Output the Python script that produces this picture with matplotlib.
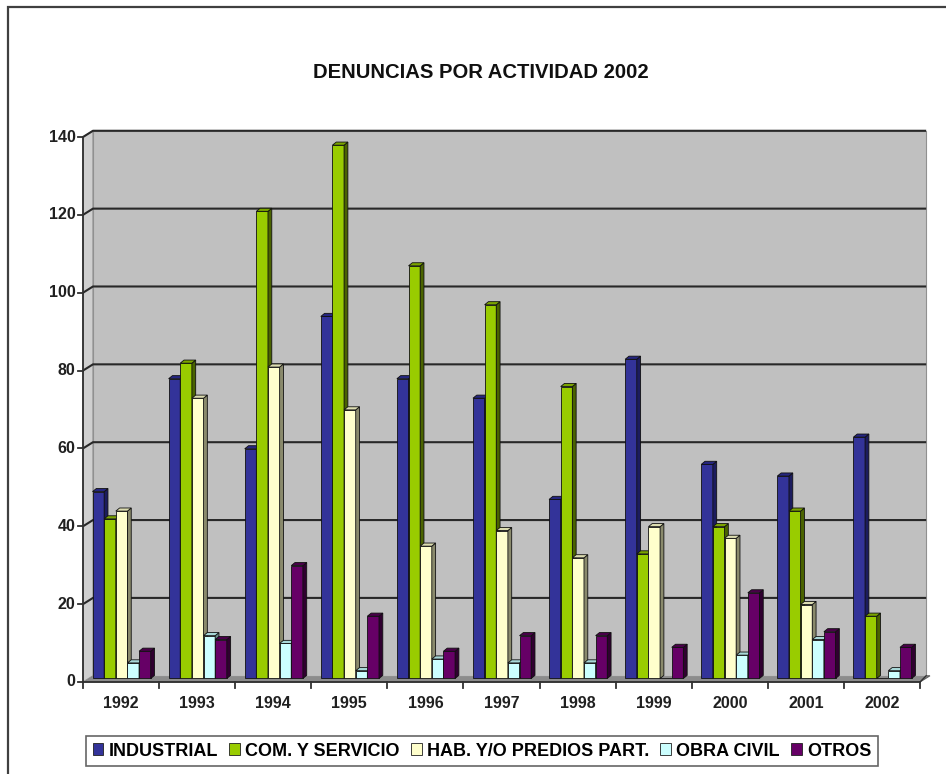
import numpy as np
import matplotlib.pyplot as plt
from matplotlib.patches import Polygon, Rectangle, Patch

## Data: complaints per activity, 1992-2002

years = ['1992', '1993', '1994', '1995', '1996', '1997', '1998', '1999', '2000', '2001', '2002']
series_names = ['INDUSTRIAL', 'COM. Y SERVICIO', 'HAB. Y/O PREDIOS PART.', 'OBRA CIVIL', 'OTROS']

industrial = [48, 77, 59, 93, 77, 72, 46, 82, 55, 52, 62]
comercio = [41, 81, 120, 137, 106, 96, 75, 32, 39, 43, 16]
habitacional = [43, 72, 80, 69, 34, 38, 31, 39, 36, 19, 0]
obra_civil = [4, 11, 9, 2, 5, 4, 4, 0, 6, 10, 2]
otros = [7, 10, 29, 16, 7, 11, 11, 8, 22, 12, 8]

series = [industrial, comercio, habitacional, obra_civil, otros]

# front / side / top face colours for the fake 3D bars
front_cols = ['#333399', '#99cc00', '#ffffcc', '#ccffff', '#660066']
side_cols = ['#1c1c5e', '#4a6300', '#8a8a6c', '#6c8c8c', '#300030']
top_cols = ['#262680', '#7ba400', '#dcdcb0', '#a8d8d8', '#4a004a']

yticks = [0, 20, 40, 60, 80, 100, 120, 140]

W, H = 946, 774
fig = plt.figure(figsize=(W / 100, H / 100), dpi=100)
fig.patch.set_facecolor('white')

# chart-area border (only top and left edges fall inside the frame)
fig.add_artist(Rectangle((8 / W, -0.1), 1.2, 1 - 7 / H + 0.1, transform=fig.transFigure,
                         facecolor='none', edgecolor='#404040', lw=1.6))

ax_l, ax_r, ax_b, ax_t = 83, 920, 682, 137
ax = fig.add_axes([ax_l / W, 1 - ax_b / H, (ax_r - ax_l) / W, (ax_b - ax_t) / H])
ax.set_xlim(0, len(years))
ax.set_ylim(0, 140)
ax.axis('off')

# depth of the walls and of the bars (data units)
wx, wy = 0.131, 1.6
bx, by = 0.05, 0.8
n = len(years)

# floor, side wall and back wall
ax.add_patch(Polygon([(0, 0), (n, 0), (n + wx, wy), (wx, wy)], closed=True,
                     facecolor='#8c8c8c', edgecolor='#606060', lw=0.8, clip_on=False, zorder=1))
ax.add_patch(Polygon([(0, 0), (wx, wy), (wx, 140 + wy), (0, 140)], closed=True,
                     facecolor='#cfcfcf', edgecolor='#909090', lw=0.8, clip_on=False, zorder=1))
ax.add_patch(Rectangle((wx, wy), n - 0.05, 140, facecolor='#c0c0c0', edgecolor='#909090',
                       lw=0.8, clip_on=False, zorder=1))

# gridlines on back wall plus slant across the side wall
for v in yticks[1:]:
    ax.plot([0, wx, n + wx - 0.05], [v, v + wy, v + wy], color='#282828', lw=1.5,
            clip_on=False, zorder=2, solid_capstyle='butt')

# bars
bw = 0.153
start = 0.125
base = 0.9
x = np.arange(n)
for i, vals in enumerate(series):
    xs = x + start + i * bw
    vals = np.array(vals, dtype=float)
    ax.bar(xs, vals, width=bw, bottom=base, align='edge', color=front_cols[i],
           edgecolor='#101010', lw=0.6, zorder=3 + i, clip_on=False)
    for xi, v in zip(xs, vals):
        if v <= 0:
            continue
        top = base + v
        side = [(xi + bw, base), (xi + bw + bx, base + by), (xi + bw + bx, top + by), (xi + bw, top)]
        cap = [(xi, top), (xi + bw, top), (xi + bw + bx, top + by), (xi + bx, top + by)]
        ax.add_patch(Polygon(side, closed=True, facecolor=side_cols[i], edgecolor='#101010',
                             lw=0.6, zorder=3 + i, clip_on=False))
        ax.add_patch(Polygon(cap, closed=True, facecolor=top_cols[i], edgecolor='#101010',
                             lw=0.6, zorder=3 + i, clip_on=False))

# axes lines and ticks
ax.plot([0, 0], [0, 140], color='#303030', lw=1.3, clip_on=False, zorder=10)
ax.plot([0, n], [0, 0], color='#303030', lw=1.3, clip_on=False, zorder=10)
ax.plot([n, n + wx - 0.05], [0, wy], color='#303030', lw=1.0, clip_on=False, zorder=10)

tick_font = dict(family='Liberation Sans', weight='bold', size=11.5, color='#202020')
for v in yticks:
    ax.plot([-0.07, 0], [v, v], color='#303030', lw=1.3, clip_on=False, zorder=10)
    ax.text(-0.1, v, str(v), ha='right', va='center', **tick_font)
for k in range(n + 1):
    ax.plot([k, k], [0, -1.6], color='#303030', lw=1.3, clip_on=False, zorder=10)
for k, yr in enumerate(years):
    ax.text(k + 0.5, -5.5, yr, ha='center', va='center', **tick_font)

fig.text(481 / W, 1 - 72 / H, 'DENUNCIAS POR ACTIVIDAD 2002', ha='center', va='center',
         family='Liberation Sans', weight='bold', size=14.6, color='#101010')

handles = [Patch(facecolor=front_cols[i], edgecolor='#202020', lw=0.6) for i in range(5)]
leg = fig.legend(handles, series_names, loc='center', bbox_to_anchor=(482 / W, 1 - 751 / H),
                 ncol=5, frameon=True, fancybox=False, handlelength=0.6, handleheight=0.6,
                 handletextpad=0.3, columnspacing=0.6, borderpad=0.35,
                 prop=dict(family='Liberation Sans', weight='bold', size=13))
leg.get_frame().set_edgecolor('#404040')
leg.get_frame().set_linewidth(1.2)

fig.savefig('out.png', dpi=100)
